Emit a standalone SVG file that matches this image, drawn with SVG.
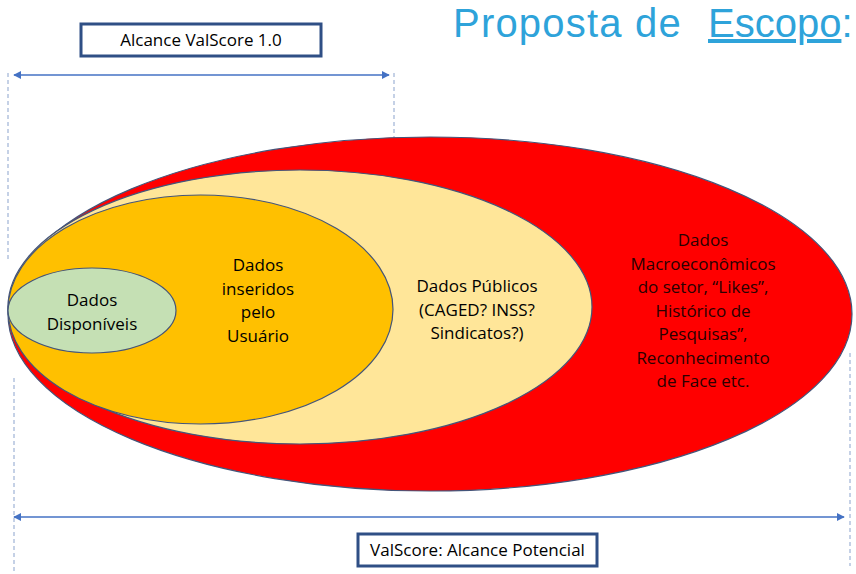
<svg xmlns="http://www.w3.org/2000/svg" width="856" height="574" viewBox="0 0 856 574">
  <defs>
    <marker id="ah" viewBox="0 0 10 10" refX="9" refY="5" markerWidth="5" markerHeight="5" orient="auto-start-reverse" markerUnits="strokeWidth">
      <path d="M0,0 L10,5 L0,10 z" fill="#4472c4"/>
    </marker>
  </defs>
  <style>
    .t { font-family: "Open Sans", "Liberation Sans", sans-serif; font-size: 17px; text-anchor: middle; fill: #000; }
    .dk { fill: #2a0000; }
    .ttl { font-family: "Liberation Sans", Arial, sans-serif; font-size: 40px; fill: #2ea3da; }
    .ell { stroke: #44557a; stroke-width: 1.2; }
    .box { fill: #fff; stroke: #2f4f85; stroke-width: 3; }
    .dash { stroke: #9fb3d6; stroke-width: 1.2; stroke-dasharray: 4 3; fill: none; }
    .arr { stroke: #4472c4; stroke-width: 1.6; fill: none; marker-start: url(#ah); marker-end: url(#ah); }
  </style>
  <rect width="856" height="574" fill="#fff"/>

  <g id="title">
    <text class="ttl" x="453" y="37" letter-spacing="1.2">Proposta de</text>
    <text class="ttl" x="708" y="37"><tspan text-decoration="underline">Escopo</tspan>:</text>
  </g>

  <g id="connectors">
    <line class="dash" x1="8" y1="73" x2="8" y2="262"/>
    <line class="dash" x1="394" y1="73" x2="394" y2="284"/>
    <line class="dash" x1="14" y1="378" x2="14" y2="574"/>
    <line class="dash" x1="850" y1="353" x2="850" y2="566"/>
    <line class="arr" x1="14" y1="75" x2="389" y2="75"/>
    <line class="arr" x1="14" y1="517" x2="844" y2="517"/>
  </g>

  <g id="node-potencial">
    <ellipse class="ell" cx="430" cy="314" rx="422" ry="177" fill="#ff0000"/>
    <text class="t dk" x="703" y="246">Dados</text>
    <text class="t dk" x="703" y="269.5">Macroeconômicos</text>
    <text class="t dk" x="703" y="293">do setor, “Likes”,</text>
    <text class="t dk" x="703" y="316.5">Histórico de</text>
    <text class="t dk" x="703" y="340">Pesquisas”,</text>
    <text class="t dk" x="703" y="363.5">Reconhecimento</text>
    <text class="t dk" x="703" y="387">de Face etc.</text>
  </g>

  <g id="node-publicos">
    <ellipse class="ell" cx="300" cy="307" rx="292" ry="137" fill="#ffe699"/>
    <text class="t" x="477" y="292">Dados Públicos</text>
    <text class="t" x="477" y="315.5">(CAGED? INSS?</text>
    <text class="t" x="477" y="339">Sindicatos?)</text>
  </g>

  <g id="node-usuario">
    <ellipse class="ell" cx="200.5" cy="309.5" rx="192.5" ry="114.5" fill="#ffc000"/>
    <text class="t" x="258" y="271">Dados</text>
    <text class="t" x="258" y="294.5">inseridos</text>
    <text class="t" x="258" y="318">pelo</text>
    <text class="t" x="258" y="341.5">Usuário</text>
  </g>

  <g id="node-disponiveis">
    <ellipse class="ell" cx="92" cy="310.5" rx="84" ry="42.5" fill="#c5e0b4"/>
    <text class="t" x="92" y="306">Dados</text>
    <text class="t" x="92" y="330">Disponíveis</text>
  </g>

  <g id="label-alcance">
    <rect class="box" x="81" y="24" width="240" height="32"/>
    <text class="t" x="201" y="46">Alcance ValScore 1.0</text>
  </g>

  <g id="label-potencial">
    <rect class="box" x="358" y="534" width="239" height="32"/>
    <text class="t" x="477.5" y="556">ValScore: Alcance Potencial</text>
  </g>
</svg>
